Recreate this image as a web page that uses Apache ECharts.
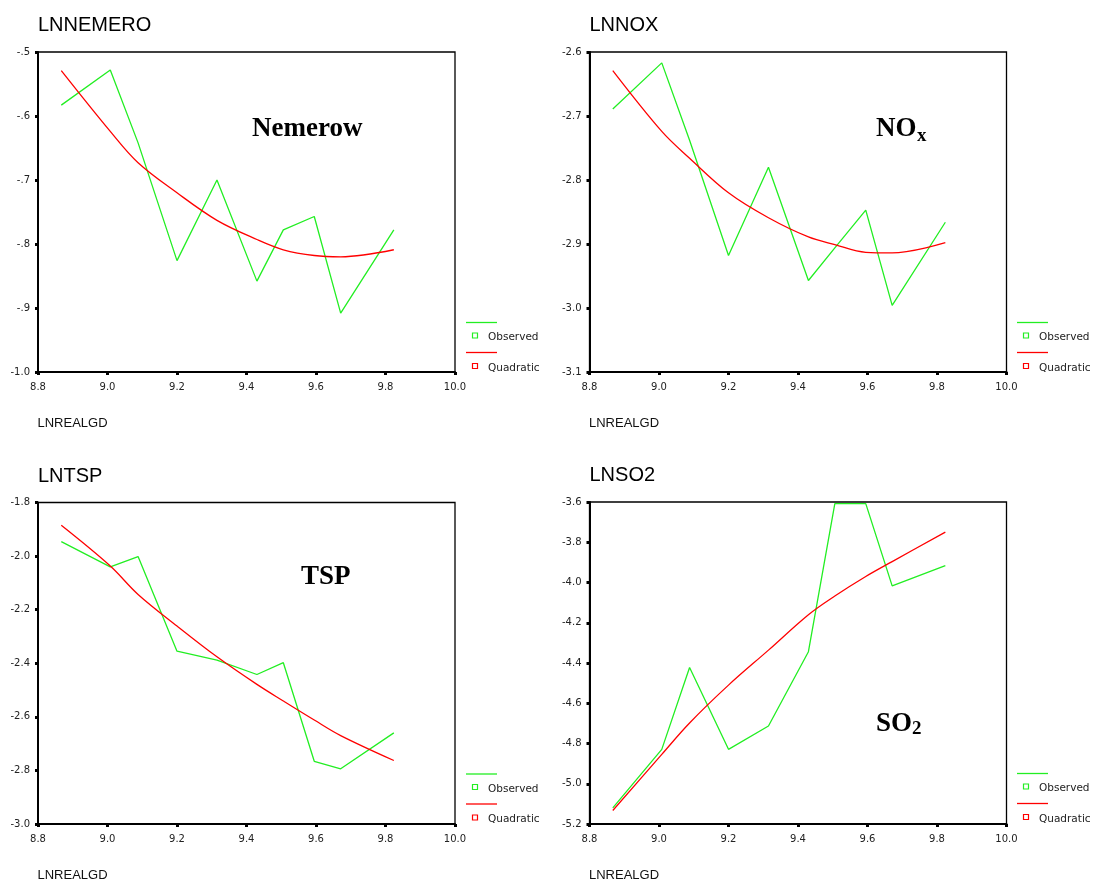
<!DOCTYPE html>
<html>
<head>
<meta charset="utf-8">
<script src="https://cdn.jsdelivr.net/npm/echarts@6/dist/echarts.min.js"></script>
<style>
  html, body { margin: 0; padding: 0; background: #ffffff; }
  #chart { width: 1093px; height: 884px; }
</style>
</head>
<body>
<div id="chart"></div>
<script>
// ---------- data ----------
const lnRealGd = [8.867, 9.008, 9.088, 9.200, 9.315, 9.430, 9.506, 9.595, 9.671, 9.824];

const nemObserved  = [-0.583, -0.528, -0.642, -0.826, -0.700, -0.858, -0.778, -0.757, -0.908, -0.778];
const nemQuadratic = [-0.529, -0.624, -0.673, -0.720, -0.763, -0.793, -0.809, -0.818, -0.820, -0.809];

const noxObserved  = [-2.689, -2.617, -2.738, -2.918, -2.780, -2.957, -2.906, -2.847, -2.996, -2.866];
const noxQuadratic = [-2.629, -2.724, -2.766, -2.820, -2.859, -2.889, -2.901, -2.913, -2.914, -2.898];

const tspObserved  = [-1.946, -2.040, -2.002, -2.355, -2.388, -2.442, -2.398, -2.766, -2.794, -2.660];
const tspQuadratic = [-1.885, -2.037, -2.143, -2.261, -2.376, -2.479, -2.541, -2.612, -2.670, -2.763];

const so2Observed  = [-5.120, -4.829, -4.422, -4.829, -4.713, -4.344, -3.608, -3.608, -4.017, -3.916];
const so2Quadratic = [-5.133, -4.854, -4.698, -4.510, -4.336, -4.160, -4.067, -3.970, -3.896, -3.750];

const xTickLabels   = ['8.8', '9.0', '9.2', '9.4', '9.6', '9.8', '10.0'];
const nemTickLabels = ['-1.0', '-.9', '-.8', '-.7', '-.6', '-.5'];
const noxTickLabels = ['-3.1', '-3.0', '-2.9', '-2.8', '-2.7', '-2.6'];
const tspTickLabels = ['-3.0', '-2.8', '-2.6', '-2.4', '-2.2', '-2.0', '-1.8'];
const so2TickLabels = ['-5.2', '-5.0', '-4.8', '-4.6', '-4.4', '-4.2', '-4.0', '-3.8', '-3.6'];

const panelTitles = ['LNNEMERO', 'LNNOX', 'LNTSP', 'LNSO2'];
const xName = 'LNREALGD';
const legendNames = ['Observed', 'Quadratic'];

// ---------- layout ----------
const GREEN = '#22ee22';
const RED = '#ff0000';
const panels = [
  { grid: { left: 38, top: 52, width: 417, height: 320 },  ymin: -1.0, ymax: -0.5, yint: 0.1, ticks: nemTickLabels, obs: nemObserved, quad: nemQuadratic,
    titleY: 25.5, nameY: 423, legend: [466, 322.5] },
  { grid: { left: 589.5, top: 52, width: 417, height: 320 }, ymin: -3.1, ymax: -2.6, yint: 0.1, ticks: noxTickLabels, obs: noxObserved, quad: noxQuadratic,
    titleY: 25.5, nameY: 423, legend: [1017, 322.5] },
  { grid: { left: 38, top: 502.5, width: 417, height: 321.5 }, ymin: -3.0, ymax: -1.8, yint: 0.2, ticks: tspTickLabels, obs: tspObserved, quad: tspQuadratic,
    titleY: 476, nameY: 875.5, legend: [466, 774] },
  { grid: { left: 589.5, top: 502, width: 417, height: 322 }, ymin: -5.2, ymax: -3.6, yint: 0.2, ticks: so2TickLabels, obs: so2Observed, quad: so2Quadratic,
    titleY: 475.5, nameY: 875.5, legend: [1017, 773.5] }
];

const labelFont = 'DejaVu Sans';
const grids = [], xAxes = [], yAxes = [], series = [], graphics = [];

panels.forEach((p, i) => {
  grids.push(Object.assign({ show: true, borderColor: '#000', borderWidth: 1.3, backgroundColor: 'transparent', containLabel: false }, p.grid));
  xAxes.push({
    type: 'value', gridIndex: i, min: 8.8, max: 10.0, interval: 0.2,
    axisLine: { show: true, onZero: false, lineStyle: { color: '#000', width: 2 } },
    axisTick: { show: true, length: 3, lineStyle: { color: '#000', width: 3 } },
    splitLine: { show: false },
    axisLabel: {
      color: '#222', fontSize: 10, fontFamily: labelFont, margin: 10.5, showMinLabel: true, showMaxLabel: true,
      formatter: v => xTickLabels[Math.round((v - 8.8) / 0.2)]
    }
  });
  yAxes.push({
    type: 'value', gridIndex: i, min: p.ymin, max: p.ymax, interval: p.yint,
    axisLine: { show: true, onZero: false, lineStyle: { color: '#000', width: 2 } },
    axisTick: { show: true, length: 3, lineStyle: { color: '#000', width: 3 } },
    splitLine: { show: false },
    axisLabel: {
      color: '#222', fontSize: 10, fontFamily: labelFont, margin: 8, showMinLabel: true, showMaxLabel: true,
      formatter: v => p.ticks[Math.round((v - p.ymin) / p.yint)]
    }
  });
  series.push({
    name: legendNames[0], type: 'line', xAxisIndex: i, yAxisIndex: i,
    data: lnRealGd.map((x, k) => [x, p.obs[k]]),
    showSymbol: false, symbol: 'none', silent: true,
    lineStyle: { color: GREEN, width: 1.3 }, z: 3
  });
  series.push({
    name: legendNames[1], type: 'line', xAxisIndex: i, yAxisIndex: i,
    data: lnRealGd.map((x, k) => [x, p.quad[k]]),
    showSymbol: false, symbol: 'none', silent: true, smooth: 0.35,
    lineStyle: { color: RED, width: 1.3 }, z: 4
  });

  // panel title
  graphics.push({ type: 'text', x: p.grid.left, y: p.titleY,
    style: { text: panelTitles[i], font: '20px "Liberation Sans"', fill: '#000', textVerticalAlign: 'middle', verticalAlign: 'middle' } });
  // x variable name
  graphics.push({ type: 'text', x: p.grid.left - 0.5, y: p.nameY,
    style: { text: xName, font: '13px "Liberation Sans"', fill: '#111', textVerticalAlign: 'middle', verticalAlign: 'middle' } });

  // SPSS-style legend
  const lx = p.legend[0], ly = p.legend[1];
  graphics.push({ type: 'line', shape: { x1: lx, y1: ly, x2: lx + 31, y2: ly }, style: { stroke: GREEN, lineWidth: 1.3 } });
  graphics.push({ type: 'rect', shape: { x: lx + 6.5, y: ly + 10.5, width: 5, height: 5 }, style: { stroke: GREEN, fill: '#fff', lineWidth: 1.2 } });
  graphics.push({ type: 'text', x: lx + 22, y: ly + 15,
    style: { text: legendNames[0], font: '10.5px "DejaVu Sans"', fill: '#222', textVerticalAlign: 'middle', verticalAlign: 'middle' } });
  graphics.push({ type: 'line', shape: { x1: lx, y1: ly + 30, x2: lx + 31, y2: ly + 30 }, style: { stroke: RED, lineWidth: 1.3 } });
  graphics.push({ type: 'rect', shape: { x: lx + 6.5, y: ly + 41, width: 5, height: 5 }, style: { stroke: RED, fill: '#fff', lineWidth: 1.2 } });
  graphics.push({ type: 'text', x: lx + 22, y: ly + 45.5,
    style: { text: legendNames[1], font: '10.5px "DejaVu Sans"', fill: '#222', textVerticalAlign: 'middle', verticalAlign: 'middle' } });
});

// pollutant annotations
const bigFont = 'bold 27px "Liberation Serif"';
const subFont = 'bold 19px "Liberation Serif"';
function ann(x, y, text, font) {
  graphics.push({ type: 'text', x: x, y: y, z: 10,
    style: { text: text, font: font, fill: '#000', textVerticalAlign: 'middle', verticalAlign: 'middle' } });
}
ann(252, 129, 'Nemerow', bigFont);
ann(876, 129, 'NO', bigFont);
ann(917, 136, 'x', subFont);
ann(301, 577.5, 'TSP', bigFont);
ann(876, 724, 'SO', bigFont);
ann(912, 729, '2', subFont);

const chart = echarts.init(document.getElementById('chart'), null, { renderer: 'canvas' });
chart.setOption({
  animation: false,
  backgroundColor: '#ffffff',
  grid: grids,
  xAxis: xAxes,
  yAxis: yAxes,
  series: series,
  graphic: graphics
});
</script>
</body>
</html>
